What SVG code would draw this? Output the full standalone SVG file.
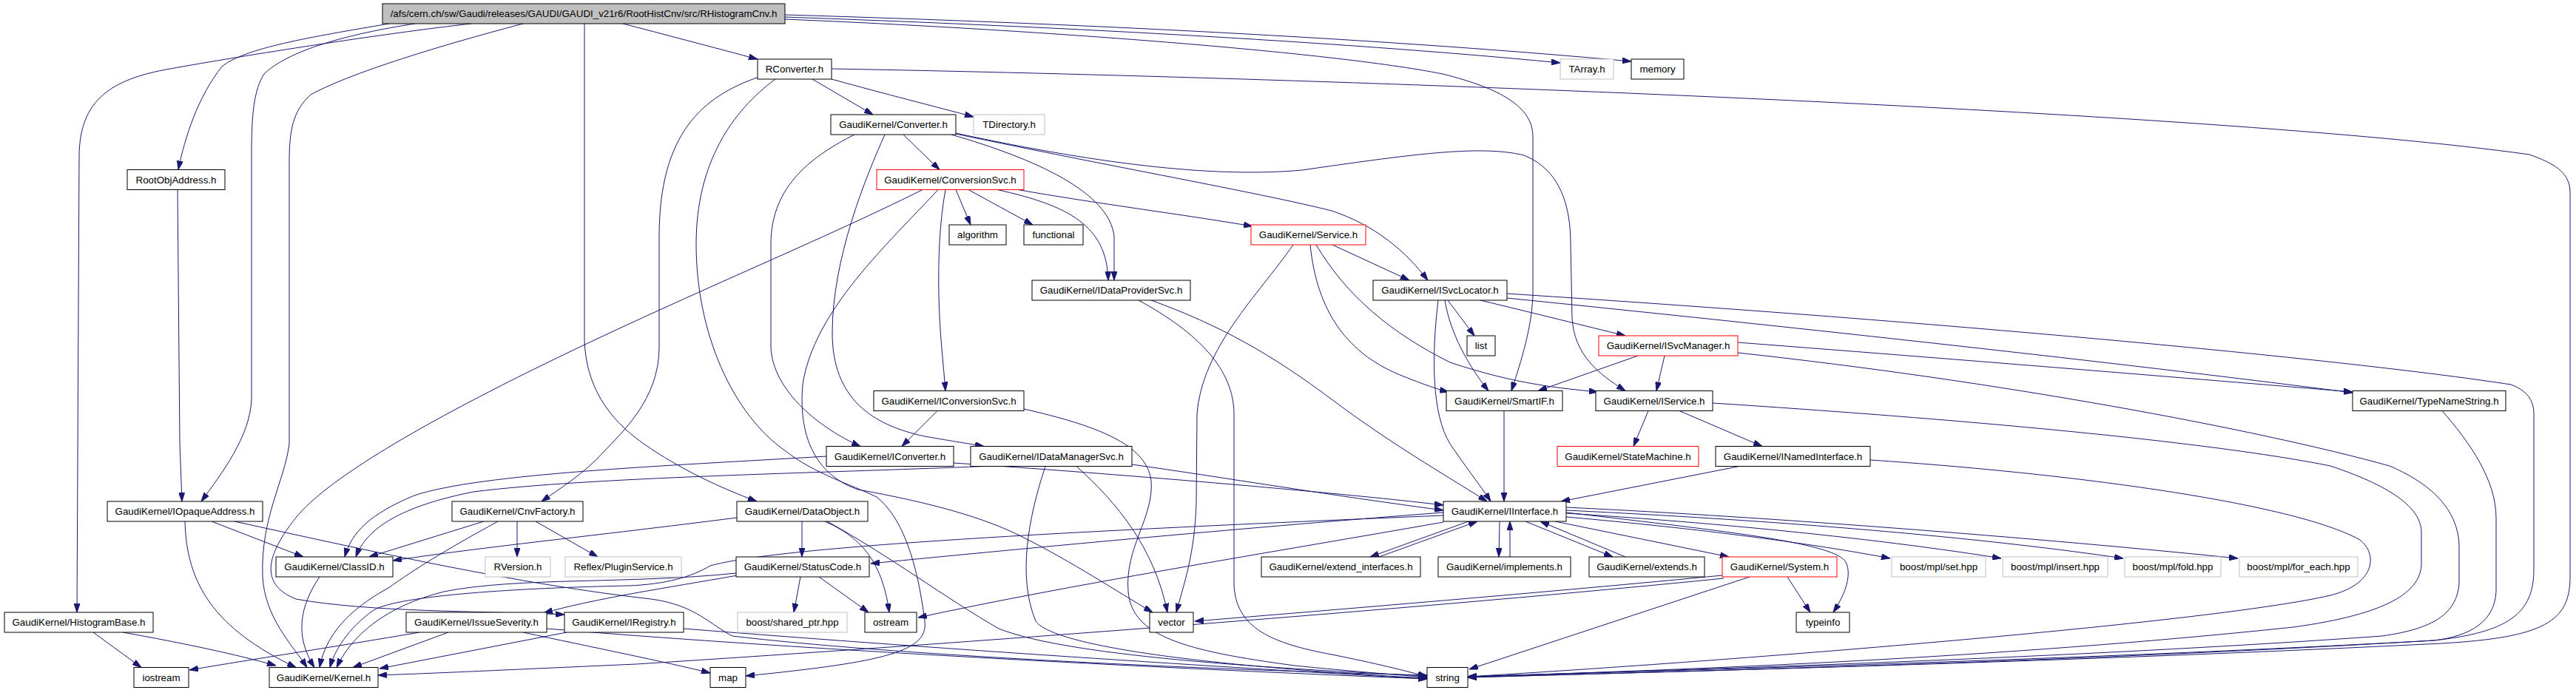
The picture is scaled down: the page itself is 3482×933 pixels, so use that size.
<svg xmlns="http://www.w3.org/2000/svg" width="3482" height="933" viewBox="0 0 3482 933">
<style>
.n rect{fill:#fff;stroke:#000;stroke-width:1}
.n.r rect{stroke:#f00}
.n.g rect{stroke:#bfbfbf}
.n.root rect{fill:#bfbfbf}
.n text{font-family:"Liberation Sans",Arial,sans-serif;font-size:13.33px;text-anchor:middle;fill:#000}
#edges path{fill:none;stroke:#191970;stroke-width:1;marker-end:url(#a)}
</style>
<defs>
<marker id="a" markerWidth="12" markerHeight="8" refX="12" refY="4" orient="auto" markerUnits="userSpaceOnUse"><path d="M0,0 L12,4 L0,8 z" fill="#191970" stroke="#191970" stroke-width="1"/></marker>
</defs>
<rect width="3482" height="933" fill="#fff"/>
<g id="edges">
<path d="M842,32 C900,47 960,63 1024,80"/>
<path d="M526,32 C420,50 330,65 300,90 C268,130 250,185 241,229.5"/>
<path d="M637,32 C520,45 330,75 230,93 C150,107 108,135 107,210 L104,828"/>
<path d="M561,32 C470,46 390,68 357,100 C343,122 340,155 340,210 L340,540 C338,590 300,640 272,678"/>
<path d="M707,32 C620,55 480,95 420,128 C396,150 391,175 391,220 L391,600 C385,650 352,700 355,780 C358,835 395,872 415,902.5"/>
<path d="M790,32 L790,460 C792,520 820,565 870,600 C920,635 975,660 1023,678"/>
<path d="M1061,26 C1400,40 1800,70 1950,100 C2030,120 2072,145 2072,185 L2072,400 C2070,450 2052,500 2043,528.5"/>
<path d="M1061,23 C1400,35 1800,55 2109,85"/>
<path d="M1061,20 C1500,33 1900,55 2205,83"/>
<path d="M240,256.5 L243,600 L246,678"/>
<path d="M1098,107 L1180,155"/>
<path d="M1124,107 C1200,128 1260,143 1316,158"/>
<path d="M1124,93 C1800,105 3000,150 3419,209 C3450,220 3474,232 3474,260 L3474,780 C3474,840 3440,862 3300,870 C2800,895 2300,907 1984,916"/>
<path d="M1026,104 C950,130 891,180 891,320 L891,470 C891,540 840,585 817,610 C790,640 755,662 732,678"/>
<path d="M1048,107 C990,150 941,220 941,330 C941,450 990,560 1062,610 C1100,640 1150,655 1185,672 C1220,700 1240,760 1250,840 C1255,880 1200,895 1008,914"/>
<path d="M1221,182 L1270,229.5"/>
<path d="M1155,182 C1100,210 1042,250 1042,330 L1042,470 C1045,530 1110,580 1163,603.5"/>
<path d="M1196,182 C1170,240 1125,350 1125,450 C1125,540 1180,575 1250,590 C1290,597 1310,600 1330,603.5"/>
<path d="M1286,182 C1400,215 1500,260 1506,320 L1506,379"/>
<path d="M1292,180 C1500,225 1650,240 1760,230 C1900,210 2000,195 2060,210 C2110,230 2123,280 2123,330 L2125,430 C2128,480 2160,505 2197,528.5"/>
<path d="M1292,181 C1500,225 1700,260 1800,285 C1860,305 1900,340 1930,379"/>
<path d="M1278,256.5 C1270,300 1268,350 1269,400 C1270,450 1275,490 1278,528.5"/>
<path d="M1292,256.5 L1312,304"/>
<path d="M1309,256.5 L1396,304"/>
<path d="M1376,256.5 C1480,275 1600,290 1693,306"/>
<path d="M1348,256.5 C1445,278 1496,305 1498,379"/>
<path d="M1268,256.5 C1200,330 1100,420 1085,520 C1078,600 1110,645 1160,662 C1260,680 1330,700 1380,725 C1450,760 1510,800 1558,828"/>
<path d="M1247,256.5 C1100,330 900,410 700,510 C560,580 440,650 400,700 C360,750 350,790 400,810 C500,828 650,826 763,831"/>
<path d="M1801,331 L1905,379"/>
<path d="M1771,331 C1780,420 1820,480 1900,510 C1925,520 1945,527 1958,530"/>
<path d="M1779,331 C1820,400 1880,450 1960,490 C2050,520 2110,525 2160,530"/>
<path d="M1748,331 C1700,400 1625,470 1618,560 L1617,680 C1615,750 1600,790 1590,828"/>
<path d="M1957,406 L1993,454"/>
<path d="M2001,406 C2080,425 2140,440 2197,454"/>
<path d="M1953,406 C1960,450 1985,495 2012,528.5"/>
<path d="M1944,406 C1935,480 1935,560 1960,600 C1980,630 2000,655 2015,678"/>
<path d="M2037,397 C2700,440 3200,490 3394,520 C3415,528 3425,540 3425,560 L3425,770 C3425,830 3390,855 3290,866 C2800,893 2300,905 1984,915"/>
<path d="M2037,403 C2500,450 2900,495 3180,531"/>
<path d="M2214,481 L2079,528.5"/>
<path d="M2250,481 L2239,528.5"/>
<path d="M2349,463 C2700,490 3000,515 3180,530"/>
<path d="M2349,477 C2700,515 3050,580 3230,630 C3300,660 3324,700 3324,740 L3324,790 C3320,830 3290,850 3220,860 C2800,890 2300,905 1984,915"/>
<path d="M2228,555.5 L2208,603.5"/>
<path d="M2270,555.5 L2382,603.5"/>
<path d="M2315,545 C2700,570 3000,600 3150,630 C3240,660 3273,690 3273,720 L3273,765 C3270,800 3230,830 3100,848 C2700,890 2300,905 1984,915"/>
<path d="M2351,630.5 L2110,678"/>
<path d="M2528,622 C2800,640 3100,680 3190,730 C3215,750 3210,790 3150,805 C3000,840 2400,890 1984,915"/>
<path d="M2033,555.5 L2033,678"/>
<path d="M3301,555.5 C3340,600 3374,650 3374,700 L3374,800 C3372,840 3340,860 3290,866 C2800,895 2300,907 1984,916"/>
<path d="M1556,406 C1650,440 1720,480 1800,540 C1880,600 1950,640 2010,678"/>
<path d="M1539,406 C1620,450 1668,500 1668,560 L1668,790 C1670,850 1720,870 1800,885 C1860,897 1900,907 1929,915"/>
<path d="M1267,555.5 L1219,603.5"/>
<path d="M1384,553 C1480,575 1550,600 1556,650 C1560,700 1520,740 1525,800 C1530,860 1600,880 1750,900 C1850,910 1900,913 1929,916"/>
<path d="M1117,617 C900,630 650,640 560,670 C500,695 475,720 466,753"/>
<path d="M1289,626 C1500,640 1800,665 1951,683"/>
<path d="M1330,630.5 C1100,640 800,645 640,665 C540,685 495,715 481,753"/>
<path d="M1530,628 C1650,645 1800,670 1951,690"/>
<path d="M1413,630.5 C1390,700 1375,780 1400,840 C1430,880 1700,905 1929,917"/>
<path d="M1455,630.5 C1510,680 1560,740 1578,828"/>
<path d="M286,705 L410,753"/>
<path d="M250,705 C252,790 290,850 400,902.5"/>
<path d="M317,705 C500,745 700,790 880,810 C940,818 960,845 990,860 C1200,885 1600,905 1929,913"/>
<path d="M126,855 L191,902.5"/>
<path d="M166,855 C250,870 320,885 373,900"/>
<path d="M654,705 L499,753"/>
<path d="M673,705 C600,745 560,770 525,795 C470,825 440,860 432,902.5"/>
<path d="M699,705 L699,753"/>
<path d="M724,705 L808,753"/>
<path d="M996,700 C800,725 650,740 531,758"/>
<path d="M1084,705 L1084,753"/>
<path d="M1115,705 C1160,725 1192,755 1202,828"/>
<path d="M1118,705 C1200,750 1280,810 1350,850 C1450,890 1750,905 1929,914"/>
<path d="M1082,780 L1073,828"/>
<path d="M1107,780 L1174,828"/>
<path d="M997,778 C900,795 800,810 735,829"/>
<path d="M995,775 C850,790 700,780 600,800 C520,820 475,860 455,902.5"/>
<path d="M1951,697 C1400,720 1050,740 960,765 C935,780 900,790 850,792 C700,795 540,805 505,825 C470,850 452,880 446,902.5"/>
<path d="M1951,693 C1700,712 1400,740 1177,762"/>
<path d="M1951,706 C1700,750 1450,790 1241,835"/>
<path d="M1985,705 L1852,753"/>
<path d="M1864,753 L1997,705"/>
<path d="M2027,705 L2026,753"/>
<path d="M2041,753 L2041,705"/>
<path d="M2062,705 L2180,753"/>
<path d="M2197,753 L2082,705"/>
<path d="M2102,705 L2337,753"/>
<path d="M2117,693 C2350,720 2480,735 2495,760 C2505,780 2490,810 2478,828"/>
<path d="M2117,699 C2300,715 2450,735 2555,755"/>
<path d="M2117,694 C2400,712 2600,738 2705,755"/>
<path d="M2117,690 C2450,706 2700,730 2870,755"/>
<path d="M2117,686 C2350,697 2700,722 3025,755"/>
<path d="M2416,780 L2447,828"/>
<path d="M2365,780 L1986,905"/>
<path d="M2328,778 C2100,800 1800,825 1615,840"/>
<path d="M2330,782 C1900,825 1300,870 860,898 C700,905 600,910 511,913"/>
<path d="M606,855 L477,902.5"/>
<path d="M567,855 C450,875 350,890 256,906"/>
<path d="M707,855 C800,875 900,895 960,910"/>
<path d="M739,850 C1100,880 1600,905 1929,918"/>
<path d="M766,855 L513,904"/>
<path d="M924,850 C1300,880 1700,905 1929,918"/>
<path d="M432,780 C405,820 398,860 425,902.5"/>
</g>
<g id="n_root" class="n root"><rect x="517" y="5" width="544" height="27"/><text x="789" y="23.3">/afs/cern.ch/sw/Gaudi/releases/GAUDI/GAUDI_v21r6/RootHistCnv/src/RHistogramCnv.h</text></g>
<g id="n_RConverter" class="n"><rect x="1024" y="80" width="100" height="27"/><text x="1074" y="98.3">RConverter.h</text></g>
<g id="n_TArray" class="n g"><rect x="2109" y="80" width="72" height="27"/><text x="2145" y="98.3">TArray.h</text></g>
<g id="n_memory" class="n"><rect x="2205" y="80" width="71" height="27"/><text x="2240.5" y="98.3">memory</text></g>
<g id="n_Converter" class="n"><rect x="1123" y="155" width="169" height="27"/><text x="1207.5" y="173.3">GaudiKernel/Converter.h</text></g>
<g id="n_TDirectory" class="n g"><rect x="1316" y="155" width="96" height="27"/><text x="1364" y="173.3">TDirectory.h</text></g>
<g id="n_RootObjAddress" class="n"><rect x="172" y="229.5" width="132" height="27"/><text x="238" y="247.8">RootObjAddress.h</text></g>
<g id="n_ConversionSvc" class="n r"><rect x="1185" y="229.5" width="199" height="27"/><text x="1284.5" y="247.8">GaudiKernel/ConversionSvc.h</text></g>
<g id="n_algorithm" class="n"><rect x="1283" y="304" width="77" height="27"/><text x="1321.5" y="322.3">algorithm</text></g>
<g id="n_functional" class="n"><rect x="1384" y="304" width="80" height="27"/><text x="1424" y="322.3">functional</text></g>
<g id="n_Service" class="n r"><rect x="1691" y="304" width="155" height="27"/><text x="1768.5" y="322.3">GaudiKernel/Service.h</text></g>
<g id="n_IDataProviderSvc" class="n"><rect x="1395" y="379" width="214" height="27"/><text x="1502" y="397.3">GaudiKernel/IDataProviderSvc.h</text></g>
<g id="n_ISvcLocator" class="n"><rect x="1856" y="379" width="181" height="27"/><text x="1946.5" y="397.3">GaudiKernel/ISvcLocator.h</text></g>
<g id="n_list" class="n"><rect x="1983" y="454" width="38" height="27"/><text x="2002" y="472.3">list</text></g>
<g id="n_ISvcManager" class="n r"><rect x="2161" y="454" width="188" height="27"/><text x="2255" y="472.3">GaudiKernel/ISvcManager.h</text></g>
<g id="n_IConversionSvc" class="n"><rect x="1181" y="528.5" width="203" height="27"/><text x="1282.5" y="546.8">GaudiKernel/IConversionSvc.h</text></g>
<g id="n_SmartIF" class="n"><rect x="1955" y="528.5" width="157" height="27"/><text x="2033.5" y="546.8">GaudiKernel/SmartIF.h</text></g>
<g id="n_IService" class="n"><rect x="2157" y="528.5" width="158" height="27"/><text x="2236" y="546.8">GaudiKernel/IService.h</text></g>
<g id="n_TypeNameString" class="n"><rect x="3180" y="528.5" width="207" height="27"/><text x="3283.5" y="546.8">GaudiKernel/TypeNameString.h</text></g>
<g id="n_IConverter" class="n"><rect x="1117" y="603.5" width="172" height="27"/><text x="1203" y="621.8">GaudiKernel/IConverter.h</text></g>
<g id="n_IDataManagerSvc" class="n"><rect x="1312" y="603.5" width="218" height="27"/><text x="1421" y="621.8">GaudiKernel/IDataManagerSvc.h</text></g>
<g id="n_StateMachine" class="n r"><rect x="2105" y="603.5" width="191" height="27"/><text x="2200.5" y="621.8">GaudiKernel/StateMachine.h</text></g>
<g id="n_INamedInterface" class="n"><rect x="2319" y="603.5" width="209" height="27"/><text x="2423.5" y="621.8">GaudiKernel/INamedInterface.h</text></g>
<g id="n_IOpaqueAddress" class="n"><rect x="145" y="678" width="210" height="27"/><text x="250" y="696.3">GaudiKernel/IOpaqueAddress.h</text></g>
<g id="n_CnvFactory" class="n"><rect x="611" y="678" width="177" height="27"/><text x="699.5" y="696.3">GaudiKernel/CnvFactory.h</text></g>
<g id="n_DataObject" class="n"><rect x="996" y="678" width="177" height="27"/><text x="1084.5" y="696.3">GaudiKernel/DataObject.h</text></g>
<g id="n_IInterface" class="n"><rect x="1951" y="678" width="166" height="27"/><text x="2034" y="696.3">GaudiKernel/IInterface.h</text></g>
<g id="n_ClassID" class="n"><rect x="373" y="753" width="158" height="27"/><text x="452" y="771.3">GaudiKernel/ClassID.h</text></g>
<g id="n_RVersion" class="n g"><rect x="656" y="753" width="88" height="27"/><text x="700" y="771.3">RVersion.h</text></g>
<g id="n_PluginService" class="n g"><rect x="764" y="753" width="157" height="27"/><text x="842.5" y="771.3">Reflex/PluginService.h</text></g>
<g id="n_StatusCode" class="n"><rect x="995" y="753" width="180" height="27"/><text x="1085" y="771.3">GaudiKernel/StatusCode.h</text></g>
<g id="n_extend_interfaces" class="n"><rect x="1705" y="753" width="215" height="27"/><text x="1812.5" y="771.3">GaudiKernel/extend_interfaces.h</text></g>
<g id="n_implements" class="n"><rect x="1944" y="753" width="179" height="27"/><text x="2033.5" y="771.3">GaudiKernel/implements.h</text></g>
<g id="n_extends" class="n"><rect x="2148" y="753" width="156" height="27"/><text x="2226" y="771.3">GaudiKernel/extends.h</text></g>
<g id="n_System" class="n r"><rect x="2328" y="753" width="155" height="27"/><text x="2405.5" y="771.3">GaudiKernel/System.h</text></g>
<g id="n_mpl_set" class="n g"><rect x="2557" y="753" width="127" height="27"/><text x="2620.5" y="771.3">boost/mpl/set.hpp</text></g>
<g id="n_mpl_insert" class="n g"><rect x="2707" y="753" width="142" height="27"/><text x="2778" y="771.3">boost/mpl/insert.hpp</text></g>
<g id="n_mpl_fold" class="n g"><rect x="2872" y="753" width="130" height="27"/><text x="2937" y="771.3">boost/mpl/fold.hpp</text></g>
<g id="n_mpl_for_each" class="n g"><rect x="3027" y="753" width="160" height="27"/><text x="3107" y="771.3">boost/mpl/for_each.hpp</text></g>
<g id="n_HistogramBase" class="n"><rect x="6" y="828" width="201" height="27"/><text x="106.5" y="846.3">GaudiKernel/HistogramBase.h</text></g>
<g id="n_IssueSeverity" class="n"><rect x="549" y="828" width="190" height="27"/><text x="644" y="846.3">GaudiKernel/IssueSeverity.h</text></g>
<g id="n_IRegistry" class="n"><rect x="763" y="828" width="161" height="27"/><text x="843.5" y="846.3">GaudiKernel/IRegistry.h</text></g>
<g id="n_shared_ptr" class="n g"><rect x="997" y="828" width="148" height="27"/><text x="1071" y="846.3">boost/shared_ptr.hpp</text></g>
<g id="n_ostream" class="n"><rect x="1169" y="828" width="70" height="27"/><text x="1204" y="846.3">ostream</text></g>
<g id="n_vector" class="n"><rect x="1554" y="828" width="59" height="27"/><text x="1583.5" y="846.3">vector</text></g>
<g id="n_typeinfo" class="n"><rect x="2428" y="828" width="72" height="27"/><text x="2464" y="846.3">typeinfo</text></g>
<g id="n_iostream" class="n"><rect x="181" y="902.5" width="74" height="27"/><text x="218" y="920.8">iostream</text></g>
<g id="n_Kernel" class="n"><rect x="364" y="902.5" width="147" height="27"/><text x="437.5" y="920.8">GaudiKernel/Kernel.h</text></g>
<g id="n_map" class="n"><rect x="960" y="902.5" width="48" height="27"/><text x="984" y="920.8">map</text></g>
<g id="n_string" class="n"><rect x="1929" y="902.5" width="55" height="27"/><text x="1956.5" y="920.8">string</text></g>
</svg>
